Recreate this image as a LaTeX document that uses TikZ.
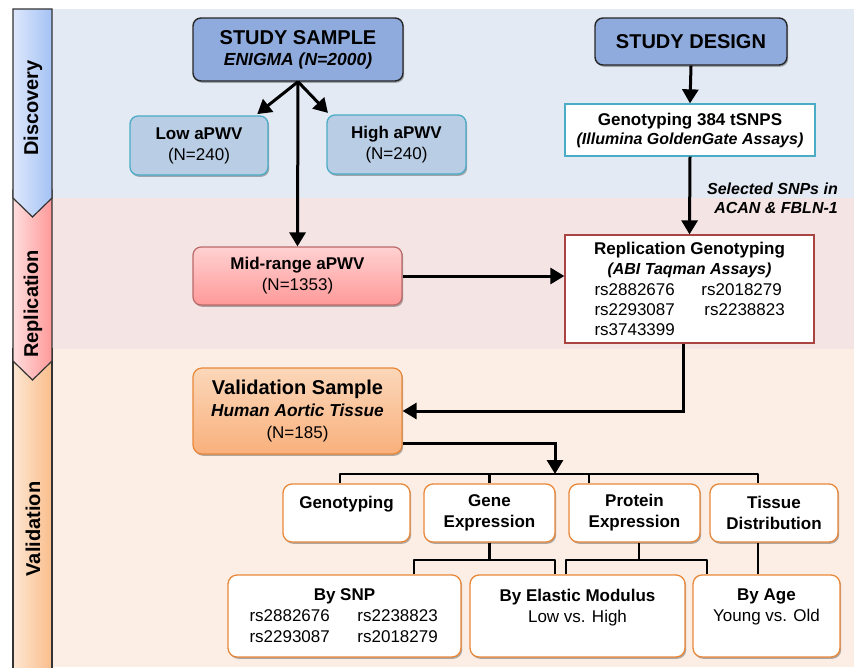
\documentclass[tikz,border=0pt]{standalone}
\usepackage{fontspec}
\setmainfont{Liberation Sans}
\usetikzlibrary{arrows.meta,shadows}

\definecolor{discband}{RGB}{228,234,244}
\definecolor{replband}{RGB}{244,228,228}
\definecolor{valiband}{RGB}{252,238,228}
\definecolor{headblue}{RGB}{143,170,220}
\definecolor{groupfill}{RGB}{185,205,229}
\definecolor{tealline}{RGB}{75,172,198}
\definecolor{redline}{RGB}{169,68,66}
\definecolor{orangeline}{RGB}{232,136,58}

\newcommand{\hdfont}{\fontsize{20}{24}\selectfont\bfseries}
\newcommand{\assayfont}{\fontsize{16}{19}\selectfont\bfseries\itshape}

\tikzset{
  every node/.style={font=\fontsize{17}{21}\selectfont, align=center, inner sep=0pt},
  softshadow/.style={drop shadow={shadow xshift=1.2pt, shadow yshift=-1.8pt, opacity=0.3, fill=black}},
  headbox/.style={draw=black!85, line width=1.4pt, rounded corners=8pt, fill=headblue, softshadow},
  groupbox/.style={draw=tealline, line width=1.3pt, rounded corners=8pt, fill=groupfill, softshadow},
  assaybox/.style={draw=tealline, line width=1.3pt, fill=white},
  replbox/.style={draw=redline, line width=1.3pt, fill=white},
  midbox/.style={draw=redline!80, line width=1.2pt, rounded corners=8pt, top color=red!18, bottom color=red!40, softshadow},
  valbox/.style={draw=orangeline, line width=1.2pt, rounded corners=9pt, top color={rgb,255:red,251;green,215;blue,185}, bottom color={rgb,255:red,249;green,176;blue,124}, softshadow},
  taskbox/.style={draw=orangeline, line width=1.3pt, rounded corners=9pt, fill=white, softshadow},
  sidebar/.style={draw=black!80, line width=1.2pt},
  phaselabel/.style={rotate=90, font=\fontsize{20}{24}\selectfont\bfseries},
  flowarrow/.style={line width=3pt, -{Triangle[length=14pt,width=16pt]}},
  treeline/.style={line width=2.5pt, line join=round}
}

\begin{document}
\begin{tikzpicture}[x=1pt,y=-1pt]
  \useasboundingbox (0,0) rectangle (854,667);

  % phase bands
  \fill[discband] (52,9) rectangle (854,198);
  \fill[replband] (52,198) rectangle (854,349);
  \fill[valiband] (52,349) rectangle (854,667);

  % phase sidebar
  \draw[sidebar, left color={rgb,255:red,253;green,230;blue,210}, right color={rgb,255:red,250;green,190;blue,140}]
    (13,349) -- (52,349) -- (52,672) -- (13,672) -- cycle;
  \draw[sidebar, left color={rgb,255:red,255;green,222;blue,222}, right color={rgb,255:red,255;green,153;blue,153}]
    (13,190) -- (52,190) -- (52,361) -- (32.5,380) -- (13,361) -- cycle;
  \draw[sidebar, left color={rgb,255:red,222;green,232;blue,252}, right color={rgb,255:red,164;green,194;blue,244}]
    (13,9) -- (52,9) -- (52,198) -- (32.5,217) -- (13,198) -- cycle;
  \node[phaselabel] (discovery) at (33,108) {Discovery};
  \node[phaselabel] (replication) at (33,304) {Replication};
  \node[phaselabel] (validation) at (33,529) {Validation};

  % discovery
  \node[headbox, minimum width=210pt, minimum height=63pt] (sample) at (298,49.5)
    {{\hdfont STUDY SAMPLE}\\[0pt]{\fontsize{17.5}{21}\selectfont\bfseries\itshape ENIGMA (N=2000)}};
  \node[headbox, minimum width=192pt, minimum height=47pt] (design) at (691,41.5) {\hdfont STUDY DESIGN};
  \node[groupbox, minimum width=138pt, minimum height=59pt] (low) at (199,145.5)
    {\bfseries Low aPWV\\(N=240)};
  \node[groupbox, minimum width=139pt, minimum height=59pt] (high) at (396.5,144.5)
    {\bfseries High aPWV\\(N=240)};
  \node[assaybox, minimum width=250pt, minimum height=52pt] (geno384) at (690,130)
    {\bfseries Genotyping 384 tSNPS\\[-2pt]{\assayfont (Illumina GoldenGate Assays)}};
  \node[anchor=east, align=right, font=\assayfont] (snplabel) at (838,198)
    {Selected SNPs in\\ACAN \& FBLN-1};

  % replication
  \node[midbox, minimum width=209pt, minimum height=58pt] (mid) at (297.5,276)
    {\bfseries Mid-range aPWV\\(N=1353)};
  \node[replbox, minimum width=249pt, minimum height=108pt, font=\fontsize{17}{20.3}\selectfont] (repl) at (689.5,289)
    {\bfseries Replication Genotyping\\{\assayfont (ABI Taqman Assays)}\\
     \makebox[190pt][l]{\makebox[107pt][l]{rs2882676}rs2018279}\\
     \makebox[190pt][l]{\makebox[110pt][l]{rs2293087}rs2238823}\\
     \makebox[190pt][l]{rs3743399}};

  % validation
  \node[valbox, minimum width=209pt, minimum height=86pt] (val) at (297.5,411)
    {{\hdfont Validation Sample}\\[1pt]{\fontsize{17.3}{21}\selectfont\bfseries\itshape Human Aortic Tissue}\\[1pt](N=185)};
  \node[taskbox, minimum width=127pt, minimum height=58pt] (genotyping) at (346.5,513)
    {\bfseries Genotyping\\~};
  \node[taskbox, minimum width=131pt, minimum height=58pt] (geneexpr) at (489.5,513)
    {\bfseries Gene\\\bfseries Expression};
  \node[taskbox, minimum width=131pt, minimum height=58pt] (protexpr) at (634.5,513)
    {\bfseries Protein\\\bfseries Expression};
  \node[taskbox, minimum width=128pt, minimum height=58pt] (tissue) at (774,513)
    {\bfseries Tissue\\\bfseries Distribution};
  \node[taskbox, minimum width=233pt, minimum height=82pt] (bysnp) at (344.5,616)
    {\bfseries By SNP\\
     \makebox[190pt][l]{\makebox[108pt][l]{rs2882676}rs2238823}\\
     \makebox[190pt][l]{\makebox[108pt][l]{rs2293087}rs2018279}};
  \node[taskbox, minimum width=215pt, minimum height=82pt] (byemod) at (577.5,616)
    {\bfseries By Elastic Modulus\\Low vs. High\\~};
  \node[taskbox, minimum width=147pt, minimum height=82pt] (byage) at (766.5,616)
    {\bfseries By Age\\Young vs. Old\\~};

  % flow arrows
  \draw[flowarrow, shorten >=2pt] (sample.south) -- ([xshift=-13pt]low.north east);
  \draw[flowarrow, shorten >=2pt] (sample.south) -- ([xshift=3pt]high.north west);
  \draw[flowarrow] (sample.south) -- (mid.north);
  \draw[flowarrow] (design.south) -- (geno384.north);
  \draw[flowarrow] (geno384.south) -- (repl.north);
  \draw[flowarrow] (mid.east) -- (mid.east -| repl.west);
  \draw[flowarrow] ([xshift=-6pt]repl.south) |- (val.east);
  \coordinate (treehub) at (555,474);
  \draw[flowarrow] ([yshift=-32pt]val.east) -| (treehub);

  % task tree
  \coordinate (tissuedrop) at ([xshift=-16pt]tissue.north);
  \coordinate (protdrop) at ([xshift=-45.5pt]protexpr.north);
  \draw[treeline] ([xshift=-6.5pt]genotyping.north) |- (tissuedrop |- treehub) -- (tissuedrop);
  \draw[treeline] (geneexpr.north) -- (geneexpr.north |- treehub);
  \draw[treeline] (protdrop) -- (protdrop |- treehub);

  % result tree
  \coordinate (splitrow) at (0,560);
  \coordinate (snpdrop) at ([xshift=69.5pt]bysnp.north);
  \coordinate (emodleft) at ([xshift=-22.5pt]byemod.north);
  \coordinate (emodright) at ([xshift=-11.5pt]byemod.north);
  \coordinate (agedrop) at ([xshift=-59.5pt]byage.north);
  \draw[treeline] (geneexpr.south) -- (geneexpr.south |- splitrow);
  \draw[treeline] (snpdrop) |- (emodleft |- splitrow) -- (emodleft);
  \draw[treeline] ([xshift=4.5pt]protexpr.south) -- ([xshift=4.5pt]protexpr.south |- splitrow);
  \draw[treeline] (emodright) |- (agedrop |- splitrow) -- (agedrop);
  \draw[treeline] (tissue.south -| tissuedrop) -- (byage.north -| tissuedrop);
\end{tikzpicture}
\end{document}
